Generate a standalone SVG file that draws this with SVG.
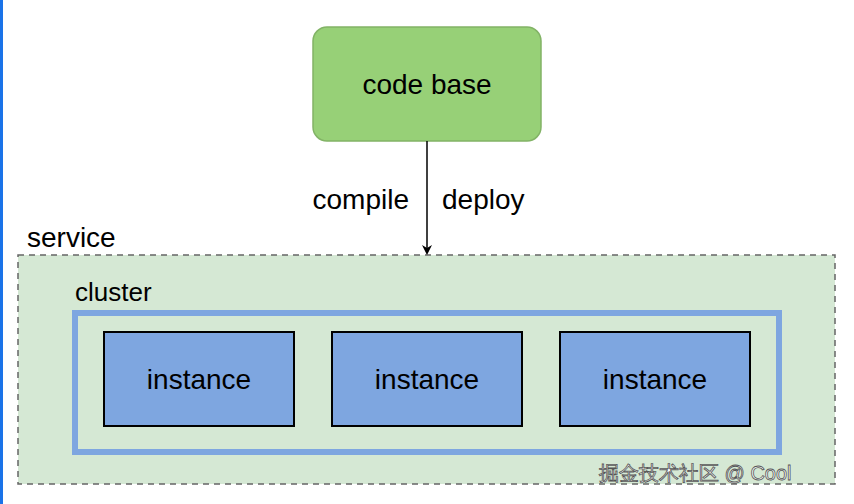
<svg xmlns="http://www.w3.org/2000/svg" width="854" height="504" viewBox="0 0 854 504">
<style>
text{font-family:"Liberation Sans",Arial,sans-serif;fill:#000}
.inst rect{fill:#7ea6e0;stroke:#000;stroke-width:2}
.inst text{font-size:28px;text-anchor:middle}
</style>
<defs><marker id="ah" markerWidth="10" markerHeight="10" refX="8" refY="5" orient="auto" markerUnits="userSpaceOnUse"><path d="M0,0 L10,5 L0,10 L3,5 Z" fill="#000"/></marker></defs>
<rect width="854" height="504" fill="#fff"/>
<rect x="0" y="0" width="3" height="504" fill="#1a73e8"/>
<g id="service">
<rect x="18" y="255" width="817" height="229" fill="#d5e8d4" stroke="#666" stroke-width="1.5" stroke-dasharray="6,5"/>
<text x="27" y="247" font-size="28">service</text>
</g>
<g id="cluster">
<rect x="75" y="313" width="704" height="139" fill="none" stroke="#7ea6e0" stroke-width="6"/>
<text x="75" y="301" font-size="26">cluster</text>
</g>
<g id="codebase">
<rect x="313" y="27" width="228" height="114" rx="14" fill="#97d077" stroke="#82b366" stroke-width="1.5"/>
<text x="427" y="94" font-size="28" text-anchor="middle">code base</text>
</g>
<g id="instance1" class="inst"><rect x="104" y="332" width="190" height="94"/><text x="199" y="389">instance</text></g>
<g id="instance2" class="inst"><rect x="332" y="332" width="190" height="94"/><text x="427" y="389">instance</text></g>
<g id="instance3" class="inst"><rect x="560" y="332" width="190" height="94"/><text x="655" y="389">instance</text></g>
<g id="connectors">
<line x1="427" y1="141" x2="427" y2="253" stroke="#000" stroke-width="1.5" marker-end="url(#ah)"/>
<text x="409" y="209" font-size="28" text-anchor="end">compile</text>
<text x="442" y="209" font-size="28">deploy</text>
</g>
<text x="599" y="480" font-size="20" style="fill:#fff;stroke:#555;stroke-width:0.8" font-family="'Liberation Sans','Noto Sans CJK SC',sans-serif">掘金技术社区 @ Cool</text>
</svg>
